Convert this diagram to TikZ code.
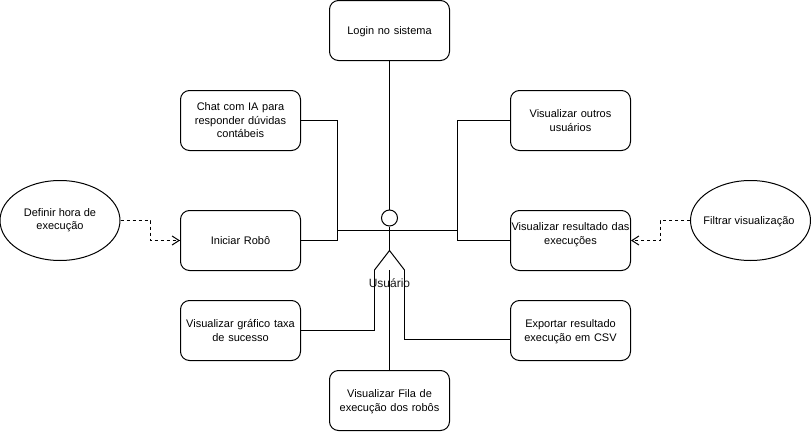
\documentclass[tikz,border=0pt]{standalone}
\usepackage{fontspec}
\setmainfont{Liberation Sans}
\usepackage{xcolor}
\usepackage{tikz}
\usetikzlibrary{
  arrows.meta,
  shapes.geometric,
  calc
}
\definecolor{LabelGray}{HTML}{1A1A1A}
\newcommand{\linestrut}{\rule[-3pt]{0pt}{13.5pt}}
\tikzset{
  usecase/.style={
    draw=black,
    rounded corners=9pt,
    line width=1pt,
    align=center,
    inner sep=0pt,
    minimum width=120pt,
    minimum height=60pt,
    text width=120pt,
    font=\fontsize{11}{13.5}\selectfont,
    execute at begin node=\linestrut\ignorespaces,
    execute at end node=\unskip\linestrut
  },
  extension/.style={
    ellipse,
    draw=black,
    line width=1pt,
    align=center,
    inner sep=0pt,
    inner xsep=-10pt,
    minimum width=120pt,
    minimum height=80pt,
    font=\fontsize{11}{13.5}\selectfont,
    execute at begin node=\linestrut\ignorespaces,
    execute at end node=\unskip\linestrut
  },
  stickman/.style={
    line width=1pt
  },
  association/.style={
    line width=1pt
  },
  extends/.style={
    -{Straight Barb[length=7pt,width=9pt]},
    line width=1pt,
    dash pattern=on 3pt off 3pt
  }
}

\begin{document}
\begin{tikzpicture}[x=1pt,y=-1pt]

  \useasboundingbox (0,0) rectangle (811,431);

  % casos de uso
  \node[usecase] (login) at (389.5,30.5) {
    Login no sistema
  };
  \node[usecase] (chat) at (240.5,120.5) {
    Chat com IA para\\
    responder dúvidas\\
    contábeis
  };
  \node[usecase] (robo) at (240.5,240.5) {
    Iniciar Robô
  };
  \node[usecase] (grafico) at (240.5,330.5) {
    Visualizar gráfico taxa\\
    de sucesso
  };
  \node[usecase] (fila) at (389.5,400.5) {
    Visualizar Fila de\\
    execução dos robôs
  };
  \node[usecase] (outros) at (570.5,120.5) {
    Visualizar outros\\
    usuários
  };
  \node[usecase] (resultado) at (570.5,240.5) {
    Visualizar resultado das\\
    execuções\\
  };
  \node[usecase] (exportar) at (570.5,330.5) {
    Exportar resultado\\
    execução em CSV
  };

  \node[extension] (hora) at (60,220.5) {
    Definir hora de\\
    execução
  };
  \node[extension] (filtrar) at (750.5,220.5) {
    Filtrar visualização
  };

  % ator
  \node[
    circle,
    draw=black,
    line width=1pt,
    inner sep=0pt,
    minimum size=16pt
  ] (head) at (389.5,218) {};
  \coordinate (armL) at (337.5,230.5);
  \coordinate (armR) at (457.5,230.5);
  \coordinate (hip) at (389.5,250.5);
  \coordinate (legL) at (374.5,270);
  \coordinate (legR) at (404.5,270);
  \coordinate (legM) at (389.5,270);

  \draw[stickman] (head.south) -- (hip);
  \draw[stickman] (armL) -- (armR);
  \draw[stickman] (legL) -- (hip) -- (legR);

  \node[
    font=\fontsize{12}{14}\selectfont,
    text=LabelGray,
    inner sep=0pt
  ] (actorlabel) at (389.5,283.5) {Usuário};

  % associacoes
  \draw[association] (login.south) -- (head.north);
  \draw[association] (chat.east) -| (armL);
  \draw[association] (robo.east) -| (armL);
  \draw[association] (outros.west) -| (armR);
  \draw[association] (resultado.west) -| (armR);
  \draw[association] (grafico.east) -| (legL);
  \draw[association] ($(exportar.west)+(0,9)$) -| (legR);
  \draw[association] (fila.north) -- (legM);

  % extensoes
  \draw[extends] (hora.east) -- ++(30,0) |- (robo.west);
  \draw[extends] (filtrar.west) -- ++(-30,0) |- (resultado.east);

\end{tikzpicture}
\end{document}
